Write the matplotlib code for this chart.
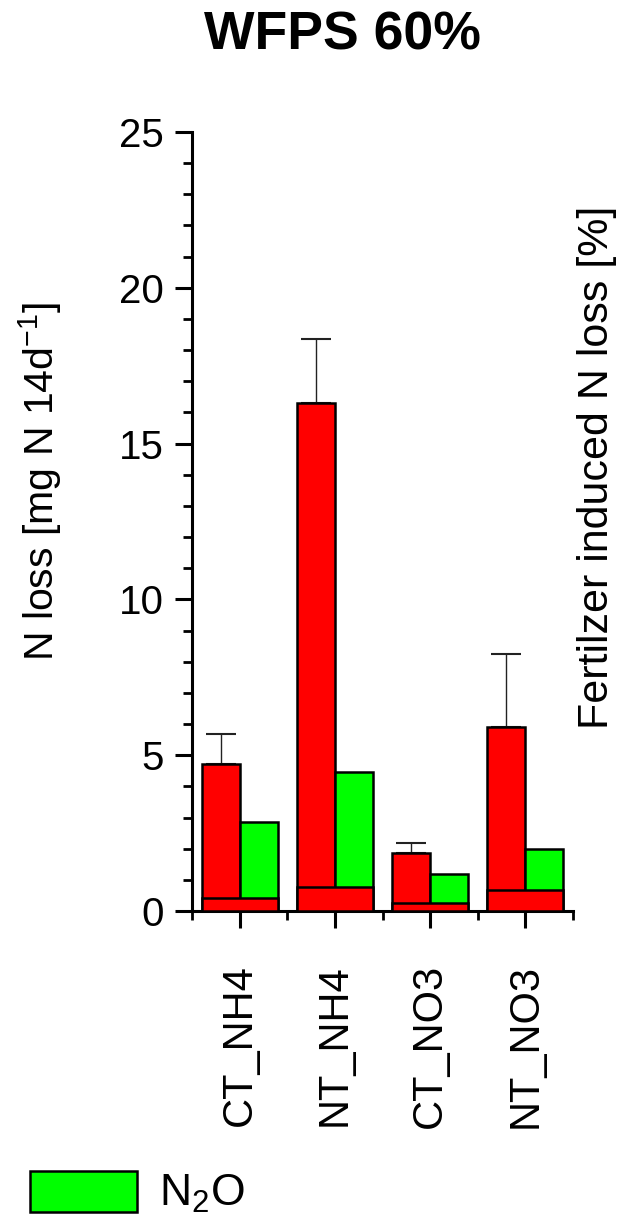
import matplotlib
matplotlib.use("Agg")
import matplotlib.pyplot as plt
from matplotlib.ticker import MultipleLocator, FixedLocator, NullFormatter
from matplotlib.patches import Patch

plt.rcParams['font.family'] = ['Liberation Sans', 'DejaVu Sans']

categories = ["CT_NH4", "NT_NH4", "CT_NO3", "NT_NO3"]
total_loss = [4.72, 16.30, 1.86, 5.90]
total_err = [0.96, 2.06, 0.32, 2.35]
n2o = [2.86, 4.46, 1.19, 1.99]
fert_induced = [0.42, 0.77, 0.26, 0.67]

fig = plt.figure(figsize=(6.18, 12.30), dpi=100)
ax = fig.add_axes([192/618, 1-911/1230, (573-192)/618, (911-132)/1230])

x = [i + 0.5 for i in range(len(categories))]
w = 0.4
ec = 'black'
lw = 1.8

ax.bar([xi - w/2 for xi in x], total_loss, width=w, color='#FF0000',
       edgecolor=ec, linewidth=lw, zorder=2)
ax.errorbar([xi - w/2 for xi in x], total_loss,
            yerr=[[0]*len(total_err), total_err], fmt='none',
            ecolor='#222222', elinewidth=1.0, capsize=11, capthick=1.5, zorder=1)
ax.bar([xi + w/2 for xi in x], n2o, width=w, color='#00FF00',
       edgecolor=ec, linewidth=lw, zorder=2)
ax.bar(x, fert_induced, width=2*w, color='#FF0000',
       edgecolor=ec, linewidth=lw, zorder=3)

ax.set_xlim(0, 4)
ax.set_ylim(0, 25)
ax.spines['top'].set_visible(False)
ax.spines['right'].set_visible(False)
for s in ('left', 'bottom'):
    ax.spines[s].set_linewidth(2.2)

ax.yaxis.set_major_locator(MultipleLocator(5))
ax.yaxis.set_minor_locator(MultipleLocator(1))
ax.xaxis.set_major_locator(FixedLocator(x))
ax.xaxis.set_minor_locator(FixedLocator([0, 1, 2, 3, 4]))
ax.set_xticklabels(categories, rotation=90, fontsize=30)
ax.xaxis.set_minor_formatter(NullFormatter())

ax.tick_params(axis='y', which='major', direction='out', length=12, width=2.2,
               labelsize=29, pad=8)
ax.tick_params(axis='y', which='minor', direction='out', length=6.5, width=2.0)
ax.tick_params(axis='x', which='major', direction='out', length=12, width=2.2,
               pad=26)
ax.tick_params(axis='x', which='minor', direction='out', length=6.5, width=2.0)

fig.text(342/618, 1-35/1230, "WFPS 60%", ha='center', va='center',
         fontsize=38.5, fontweight='bold')
fig.text(40/618, 1-481/1230, r"N loss [mg N 14d$^{\mathregular{-1}}$]",
         rotation=90, ha='center', va='center', fontsize=29.5)
fig.text(597/618, 1-467/1230, "Fertilzer induced N loss [%]",
         rotation=90, ha='center', va='center', fontsize=31)

handles = [Patch(facecolor='#00FF00', edgecolor='black', linewidth=1.8)]
fig.legend(handles, [r"N$_\mathregular{2}$O"], loc='center left',
           bbox_to_anchor=(-10/618, 1-1193/1230), frameon=False, fontsize=32,
           handlelength=2.4, handleheight=1.04, handletextpad=0.5)

fig.savefig("out.png", dpi=100)
